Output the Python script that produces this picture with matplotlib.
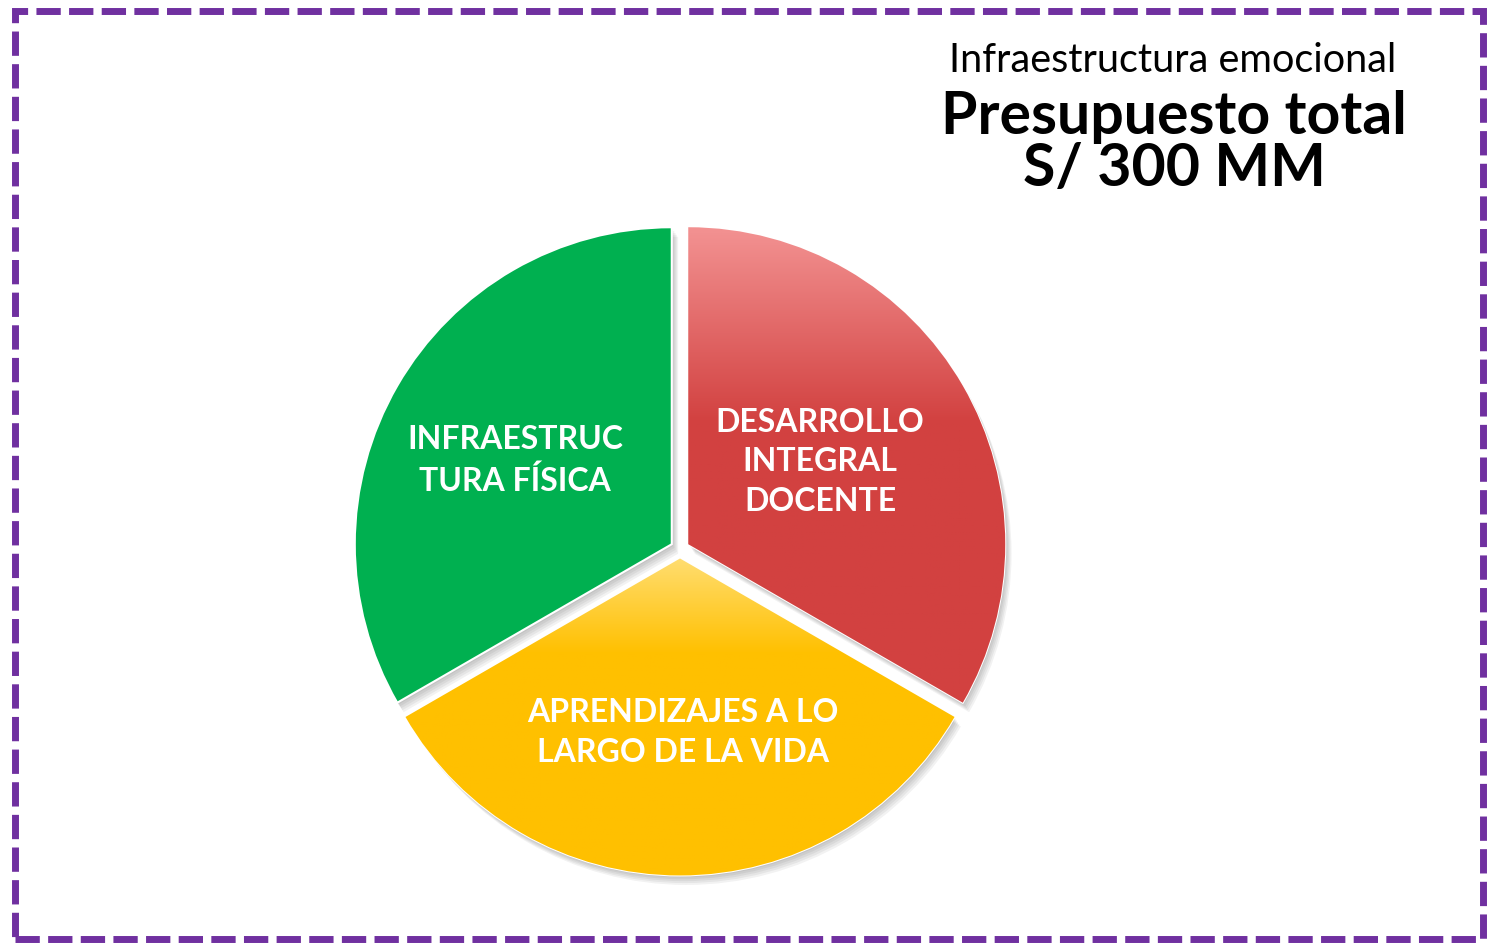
import numpy as np
import matplotlib.pyplot as plt
from matplotlib.patches import Rectangle
from matplotlib.colors import LinearSegmentedColormap

plt.rcParams['font.family'] = ['Lato', 'DejaVu Sans']

# datos del gráfico
titulo = 'Infraestructura emocional'
subtitulo = 'Presupuesto total\nS/ 300 MM'
etiquetas = ['DESARROLLO\nINTEGRAL\nDOCENTE',
             'APRENDIZAJES A LO\nLARGO DE LA VIDA',
             'INFRAESTRUC\nTURA FÍSICA']
valores = [100, 100, 100]
colores = ['#D24140', '#FFC000', '#00B050']
claros = ['#F29090', '#FFDD70', '#00B050']

fig = plt.figure(figsize=(14.88, 9.43), dpi=100)
ax = fig.add_axes([0.2285, 0.0573, 0.457, 0.7211])
explode = [0.03] * len(valores)

# sombra suave
for k in range(1, 6):
    ax.pie(valores, startangle=90, counterclock=False, explode=explode,
           colors=['#000000'] * 3, center=(0.004 * k, -0.006 * k),
           wedgeprops=dict(alpha=0.05, linewidth=0))

wedges, textos = ax.pie(valores, labels=etiquetas, startangle=90, counterclock=False,
                        explode=explode, colors=colores, labeldistance=0.53,
                        wedgeprops=dict(edgecolor='white', linewidth=1.5),
                        textprops=dict(color='white', fontsize=23, fontweight='bold'))

# ajuste fino de la posición de las etiquetas (distancia, ángulo)
ajustes = [(0.49, 32), (0.55, -89), (0.56, 152)]
for t, w, (d, ang) in zip(textos, wedges, ajustes):
    cx, cy = w.center
    t.set_position((cx + d * np.cos(np.radians(ang)), cy + d * np.sin(np.radians(ang))))
    t.set_ha('center')
    t.set_va('center')
    t.set_multialignment('center')
    t.set_linespacing(1.45)
    t.set_zorder(5)

# degradados
yy = np.linspace(1.1, -1.1, 400)[:, None] * np.ones((1, 10))
grad_rojo = np.clip((1.0 - yy) / 0.6, 0, 1)
grad_amarillo = np.clip((-0.03 - yy) / 0.3, 0, 1)
for w, g, c1, c2 in [(wedges[0], grad_rojo, claros[0], colores[0]),
                     (wedges[1], grad_amarillo, claros[1], colores[1])]:
    cmap = LinearSegmentedColormap.from_list('', [c1, c2])
    im = ax.imshow(g, extent=(-1.1, 1.1, -1.1, 1.1), cmap=cmap, vmin=0, vmax=1,
                   aspect='auto', zorder=1.5)
    im.set_clip_path(w)

ax.set_xlim(-1.0726, 1.0726)
ax.set_ylim(-1.0726, 1.0726)
ax.axis('off')

fig.text(1173 / 1488, 1 - 60 / 943, titulo, ha='center', va='center', fontsize=28.5)
fig.text(1174 / 1488, 1 - 143 / 943, subtitulo, ha='center', va='center',
         fontsize=42.5, fontweight='bold', linespacing=0.97)

borde = Rectangle((15 / 1488, 4 / 943), 1468 / 1488, 928 / 943, transform=fig.transFigure,
                  fill=False, edgecolor='#7030A0', linewidth=5,
                  linestyle=(0, (3.5, 1.2)), clip_on=False)
fig.add_artist(borde)

fig.savefig('out.png', dpi=100)
